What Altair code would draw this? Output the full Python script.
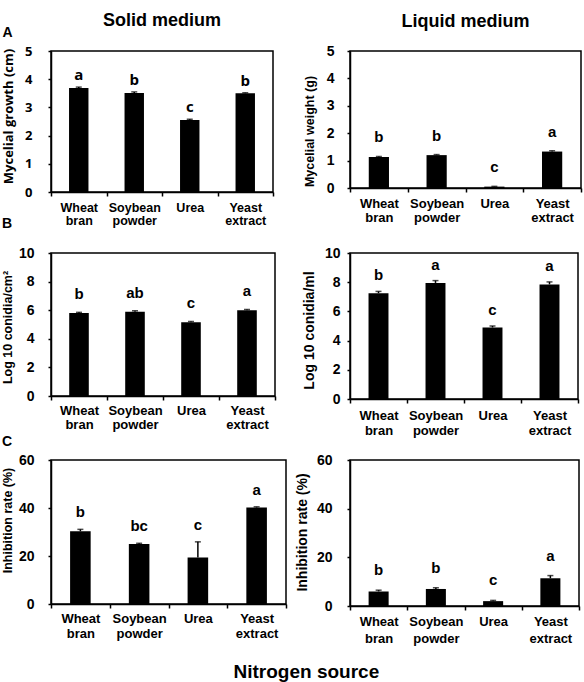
import altair as alt
import pandas as pd

# Nitrogen sources tested (shared category axis for every panel)
SOURCES = ["Wheat bran", "Soybean powder", "Urea", "Yeast extract"]

# A: mycelial growth on solid medium (cm) / mycelial weight in liquid medium (g)
growth_solid = [3.69, 3.51, 2.55, 3.50]
growth_solid_err = [0.03, 0.04, 0.03, 0.02]
growth_solid_grp = ["a", "b", "c", "b"]

weight_liquid = [1.13, 1.20, 0.05, 1.33]
weight_liquid_err = [0.02, 0.02, 0.01, 0.03]
weight_liquid_grp = ["b", "b", "c", "a"]

# B: sporulation, log10 conidia
conidia_solid = [5.80, 5.90, 5.15, 6.00]
conidia_solid_err = [0.05, 0.06, 0.06, 0.05]
conidia_solid_grp = ["b", "ab", "c", "a"]

conidia_liquid = [7.25, 7.95, 4.90, 7.85]
conidia_liquid_err = [0.12, 0.16, 0.10, 0.17]
conidia_liquid_grp = ["b", "a", "c", "a"]

# C: inhibition rate (%)
inhib_solid = [30.3, 25.0, 19.4, 40.2]
inhib_solid_err = [0.8, 0.3, 6.5, 0.3]
inhib_solid_grp = ["b", "bc", "c", "a"]

inhib_liquid = [6.0, 7.0, 2.0, 11.4]
inhib_liquid_err = [0.5, 0.5, 0.3, 1.1]
inhib_liquid_grp = ["b", "b", "c", "a"]

ARIAL = "Liberation Sans"
SEGOE = "Open Sans"


def panel(values, errs, groups, ymax, ystep, ytitle, width, height,
          font=ARIAL, label_font=ARIAL, tick_size=14, label_size=13,
          ytitle_size=13, title_x=-36, title_y=70, y_pad=14, x_pad=5,
          line_height=14, letter_dy=12, title=None, top_axis=None):
    df = pd.DataFrame({"source": SOURCES, "value": values,
                       "err": errs, "group": groups})
    base = alt.Chart(df).transform_calculate(top="datum.value + datum.err")

    x_axis = alt.Axis(title=None, labelAngle=0,
                      labelExpr="split(datum.label, ' ')",
                      tickBand="extent", tickSize=4, labelPadding=x_pad,
                      labelFont=label_font, labelFontSize=label_size,
                      labelFontWeight="bold", labelLineHeight=line_height)
    x_scale = alt.Scale(paddingInner=0, paddingOuter=0)
    x_bar = alt.X("source:N", sort=SOURCES, scale=x_scale, axis=x_axis)
    if top_axis is None:
        # every layer carries the same bottom axis so they merge into one
        x_other = x_bar
        x_letter = x_bar
    else:
        x_other = alt.X("source:N", sort=SOURCES, axis=None)
        x_letter = alt.X("source:N", sort=SOURCES, axis=top_axis)

    y_axis = alt.Axis(values=list(range(0, ymax + 1, ystep)), title=ytitle,
                      grid=False, tickSize=3, labelPadding=y_pad,
                      labelFont=font, labelFontSize=tick_size,
                      labelFontWeight="bold", titleFont=font,
                      titleFontSize=ytitle_size, titleFontWeight="bold",
                      titleX=title_x, titleY=title_y)
    y_scale = alt.Scale(domain=[0, ymax], nice=False)
    y_bar = alt.Y("value:Q", scale=y_scale, axis=y_axis)
    y_top = alt.Y("top:Q", scale=y_scale, axis=y_axis)

    bars = base.mark_bar(color="black", width=alt.RelativeBandSize(0.35)).encode(
        x=x_bar, y=y_bar)
    whisker = base.mark_rule(color="black", strokeWidth=1.5).encode(
        x=x_other, y=y_bar, y2="top:Q")
    cap = base.mark_tick(color="black", thickness=1.5, size=6,
                         orient="horizontal").encode(x=x_other, y=y_top)
    letters = base.mark_text(font=font, fontSize=15, fontWeight="bold",
                             baseline="alphabetic", dy=-letter_dy,
                             color="black").encode(
        x=x_letter, y=y_top, text="group:N")

    chart = alt.layer(bars, whisker, cap, letters)
    if top_axis is not None:
        chart = chart.resolve_axis(x="independent")
    props = {"width": width, "height": height}
    if title is not None:
        props["title"] = title
    return chart.properties(**props)


def label_title(text, offset, fontsize=14, dx=-49):
    return alt.TitleParams(text, anchor="start", frame="group", dx=dx,
                           offset=offset, baseline="alphabetic",
                           fontSize=fontsize, font=ARIAL, fontWeight="bold",
                           color="black")


def header(text, offset):
    return alt.TitleParams(text, anchor="middle", frame="group",
                           offset=offset, baseline="alphabetic", fontSize=18,
                           font=ARIAL, fontWeight="bold", color="black")


# the panel letter "A" rides on a label-less top axis of the first panel
panel_a_top = alt.Axis(orient="top", labels=False, ticks=False, domain=False,
                       title="A", titleX=-49, titleY=-15, titleAngle=0,
                       titleAlign="left", titleBaseline="alphabetic",
                       titleFont=ARIAL, titleFontSize=14,
                       titleFontWeight="bold", titleColor="black")

a_left = panel(growth_solid, growth_solid_err, growth_solid_grp, 5, 1,
               "Mycelial growth (cm)", 222, 141, font=SEGOE, tick_size=13,
               label_size=12.5, ytitle_size=13, title_x=-36, title_y=65,
               y_pad=16, x_pad=5, line_height=13, letter_dy=7,
               title=header("Solid medium", -19), top_axis=panel_a_top)
a_right = panel(weight_liquid, weight_liquid_err, weight_liquid_grp, 5, 1,
                "Mycelial weight (g)", 231, 137, tick_size=14,
                ytitle_size=12.5, title_x=-34, title_y=80, y_pad=13, x_pad=5,
                line_height=14, letter_dy=14,
                title=header("Liquid medium", -1))
b_left = panel(conidia_solid, conidia_solid_err, conidia_solid_grp, 10, 2,
               "Log 10 conidia/cm²", 224, 143, tick_size=14,
               ytitle_size=12.5, title_x=-37, title_y=74, y_pad=14, x_pad=4,
               line_height=14, letter_dy=13, title=label_title("B", 4))
b_right = panel(conidia_liquid, conidia_liquid_err, conidia_liquid_grp, 10, 2,
                "Log 10 conidia/ml", 228, 146, tick_size=14,
                ytitle_size=14, title_x=-34, title_y=77, y_pad=7, x_pad=6,
                line_height=15, letter_dy=11)
c_left = panel(inhib_solid, inhib_solid_err, inhib_solid_grp, 60, 20,
               "Inhibition rate (%)", 235, 144, tick_size=14,
               ytitle_size=12.5, title_x=-37, title_y=60, y_pad=14, x_pad=4,
               line_height=15, letter_dy=12, title=label_title("C", -7))
c_right = panel(inhib_liquid, inhib_liquid_err, inhib_liquid_grp, 60, 20,
                "Inhibition rate (%)", 229, 146, tick_size=14,
                ytitle_size=14, title_x=-41, title_y=72, y_pad=15, x_pad=5,
                line_height=17, letter_dy=15)

chart = alt.concat(
    a_left, a_right, b_left, b_right, c_left, c_right,
    columns=2, spacing={"row": 61, "column": 64}, bounds="flush", align="each",
).properties(
    title=alt.TitleParams("Nitrogen source", orient="bottom", anchor="middle",
                          offset=32, dx=15, baseline="alphabetic",
                          fontSize=19, font=ARIAL, fontWeight="bold",
                          color="black"),
    padding={"left": 0, "top": 11, "right": 0, "bottom": 0},
    background="white",
).configure_view(
    stroke="black", strokeWidth=1.5
).configure_axis(
    domainColor="black", domainWidth=1.5, tickColor="black", tickWidth=1.5,
    labelColor="black", titleColor="black"
)

chart.save("out.html", embed_options={"renderer": "svg", "actions": False})
